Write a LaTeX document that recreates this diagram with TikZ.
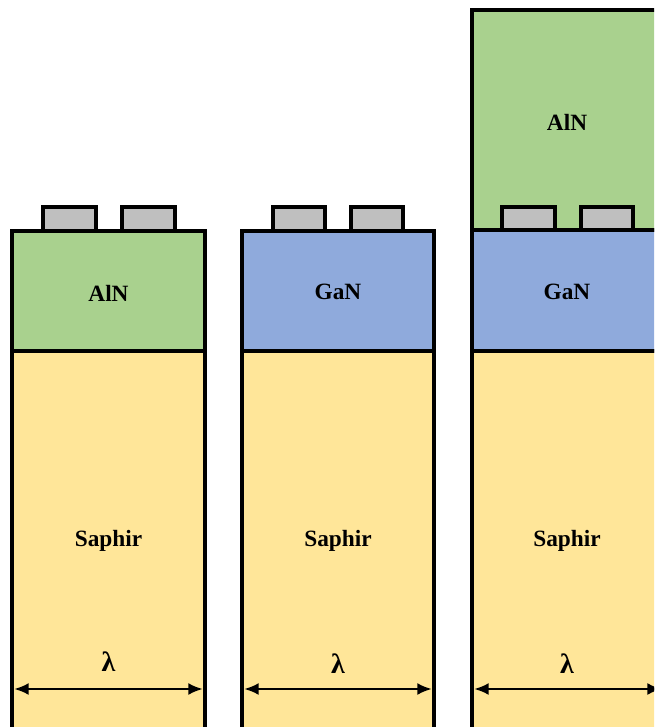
\documentclass[tikz,border=0pt]{standalone}
\usepackage{fontspec}
\setmainfont{Liberation Serif}
\usetikzlibrary{arrows.meta}
\definecolor{alncol}{HTML}{A9D18E}
\definecolor{gancol}{HTML}{8FAADC}
\definecolor{sapcol}{HTML}{FFE699}
\definecolor{elcol}{HTML}{BFBFBF}
\begin{document}
\begin{tikzpicture}[x=0.75pt,y=-0.75pt,
  layer/.style={draw=black,line width=2.7pt},
  lbl/.style={font=\fontsize{17.5}{19}\selectfont\bfseries},
  lam/.style={font=\fontsize{21}{22}\selectfont\bfseries},
  dim/.style={line width=2pt,{Latex[length=11pt,width=9pt]}-{Latex[length=11pt,width=9pt]}}]
\useasboundingbox (0,0) rectangle (654,727);
\clip (0,0) rectangle (654,727);
% column 1
\draw[layer,fill=sapcol] (12,351) rectangle (205,740);
\draw[layer,fill=alncol] (12,231) rectangle (205,351);
\draw[layer,fill=elcol] (43,207) rectangle (96,231);
\draw[layer,fill=elcol] (122,207) rectangle (175,231);
\node[lbl] (t1a) at (108.5,293) {AlN};
\node[lbl] (t1s) at (108.5,541) {Saphir};
\coordinate (a1l) at (14,689);
\coordinate (a1r) at (203,689);
\draw[dim] (a1l) -- (a1r);
\node[lam] (l1) at (108.5,662) {λ};
% column 2
\draw[layer,fill=sapcol] (242,351) rectangle (434,740);
\draw[layer,fill=gancol] (242,231) rectangle (434,351);
\draw[layer,fill=elcol] (273,207) rectangle (325,231);
\draw[layer,fill=elcol] (351,207) rectangle (403,231);
\node[lbl] (t2g) at (338,292) {GaN};
\node[lbl] (t2s) at (338,541) {Saphir};
\coordinate (a2l) at (244,689);
\coordinate (a2r) at (432,689);
\draw[dim] (a2l) -- (a2r);
\node[lam] (l2) at (338,664) {λ};
% column 3
\draw[layer,fill=sapcol] (472,351) rectangle (664,740);
\draw[layer,fill=gancol] (472,230) rectangle (664,351);
\draw[layer,fill=alncol] (472,10) rectangle (664,230);
\draw[layer,fill=elcol] (502,207) rectangle (555,230);
\draw[layer,fill=elcol] (581,207) rectangle (633,230);
\node[lbl] (t3a) at (567,122) {AlN};
\node[lbl] (t3g) at (567,292) {GaN};
\node[lbl] (t3s) at (567,541) {Saphir};
\coordinate (a3l) at (474,689);
\coordinate (a3r) at (662,689);
\draw[dim] (a3l) -- (a3r);
\node[lam] (l3) at (567,664) {λ};
\end{tikzpicture}
\end{document}
